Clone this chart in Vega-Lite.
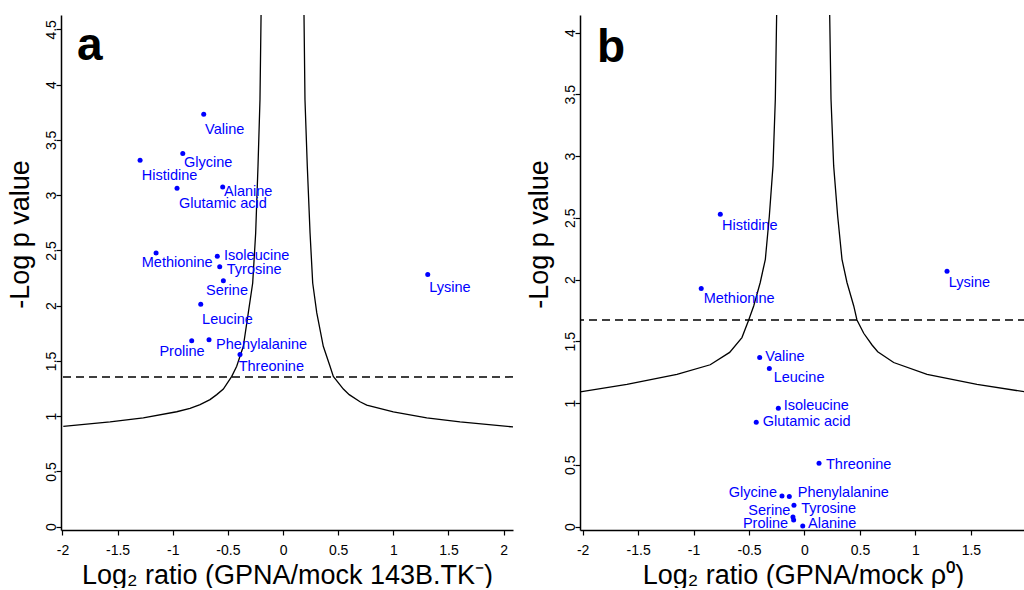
{
  "$schema": "https://vega.github.io/schema/vega-lite/v6.json",
  "padding": {"left": 5, "top": 15, "right": 0, "bottom": 0},
  "spacing": 11,
  "background": "white",
  "datasets": {
    "ptsA": [
      {"name": "Valine", "x": -0.719, "y": 3.731, "lx": -0.707, "ly": 3.593},
      {"name": "Glycine", "x": -0.909, "y": 3.376, "lx": -0.898, "ly": 3.294},
      {"name": "Histidine", "x": -1.296, "y": 3.315, "lx": -1.281, "ly": 3.170},
      {"name": "Glutamic acid", "x": -0.961, "y": 3.062, "lx": -0.943, "ly": 2.923},
      {"name": "Alanine", "x": -0.547, "y": 3.074, "lx": -0.535, "ly": 3.032},
      {"name": "Methionine", "x": -1.151, "y": 2.477, "lx": -1.281, "ly": 2.389},
      {"name": "Isoleucine", "x": -0.596, "y": 2.446, "lx": -0.535, "ly": 2.450},
      {"name": "Tyrosine", "x": -0.574, "y": 2.353, "lx": -0.510, "ly": 2.319},
      {"name": "Serine", "x": -0.541, "y": 2.226, "lx": -0.698, "ly": 2.129},
      {"name": "Lysine", "x": 1.312, "y": 2.281, "lx": 1.326, "ly": 2.163},
      {"name": "Leucine", "x": -0.746, "y": 2.012, "lx": -0.734, "ly": 1.867},
      {"name": "Proline", "x": -0.828, "y": 1.683, "lx": -1.121, "ly": 1.577},
      {"name": "Phenylalanine", "x": -0.671, "y": 1.692, "lx": -0.607, "ly": 1.641},
      {"name": "Threonine", "x": -0.390, "y": 1.557, "lx": -0.402, "ly": 1.445}
    ],
    "ptsB": [
      {"name": "Histidine", "x": -0.759, "y": 2.529, "lx": -0.744, "ly": 2.431},
      {"name": "Lysine", "x": 1.285, "y": 2.067, "lx": 1.300, "ly": 1.968},
      {"name": "Methionine", "x": -0.931, "y": 1.927, "lx": -0.909, "ly": 1.840},
      {"name": "Valine", "x": -0.404, "y": 1.368, "lx": -0.353, "ly": 1.373},
      {"name": "Leucine", "x": -0.317, "y": 1.279, "lx": -0.278, "ly": 1.206},
      {"name": "Isoleucine", "x": -0.236, "y": 0.958, "lx": -0.188, "ly": 0.972},
      {"name": "Glutamic acid", "x": -0.435, "y": 0.845, "lx": -0.377, "ly": 0.847},
      {"name": "Threonine", "x": 0.131, "y": 0.513, "lx": 0.194, "ly": 0.496},
      {"name": "Glycine", "x": -0.203, "y": 0.248, "lx": -0.684, "ly": 0.270},
      {"name": "Phenylalanine", "x": -0.137, "y": 0.243, "lx": -0.061, "ly": 0.270},
      {"name": "Tyrosine", "x": -0.095, "y": 0.172, "lx": -0.029, "ly": 0.146},
      {"name": "Serine", "x": -0.104, "y": 0.078, "lx": -0.506, "ly": 0.126},
      {"name": "Proline", "x": -0.098, "y": 0.053, "lx": -0.555, "ly": 0.019},
      {"name": "Alanine", "x": -0.016, "y": 0.005, "lx": 0.032, "ly": 0.019}
    ],
    "curveA": [
      {"branch": "L", "x": -1.992, "y": 0.908},
      {"branch": "L", "x": -1.568, "y": 0.948},
      {"branch": "L", "x": -1.267, "y": 0.984},
      {"branch": "L", "x": -0.964, "y": 1.040},
      {"branch": "L", "x": -0.843, "y": 1.070},
      {"branch": "L", "x": -0.752, "y": 1.105},
      {"branch": "L", "x": -0.662, "y": 1.150},
      {"branch": "L", "x": -0.601, "y": 1.195},
      {"branch": "L", "x": -0.541, "y": 1.245},
      {"branch": "L", "x": -0.465, "y": 1.360},
      {"branch": "L", "x": -0.420, "y": 1.451},
      {"branch": "L", "x": -0.360, "y": 1.632},
      {"branch": "L", "x": -0.315, "y": 1.934},
      {"branch": "L", "x": -0.275, "y": 2.205},
      {"branch": "L", "x": -0.248, "y": 2.658},
      {"branch": "L", "x": -0.227, "y": 3.261},
      {"branch": "L", "x": -0.209, "y": 3.864},
      {"branch": "L", "x": -0.199, "y": 4.640},
      {"branch": "R", "x": 0.190, "y": 4.640},
      {"branch": "R", "x": 0.199, "y": 3.864},
      {"branch": "R", "x": 0.220, "y": 3.261},
      {"branch": "R", "x": 0.245, "y": 2.658},
      {"branch": "R", "x": 0.269, "y": 2.205},
      {"branch": "R", "x": 0.306, "y": 1.934},
      {"branch": "R", "x": 0.365, "y": 1.632},
      {"branch": "R", "x": 0.426, "y": 1.451},
      {"branch": "R", "x": 0.456, "y": 1.360},
      {"branch": "R", "x": 0.547, "y": 1.245},
      {"branch": "R", "x": 0.600, "y": 1.195},
      {"branch": "R", "x": 0.698, "y": 1.130},
      {"branch": "R", "x": 0.759, "y": 1.100},
      {"branch": "R", "x": 1.000, "y": 1.038},
      {"branch": "R", "x": 1.303, "y": 0.984},
      {"branch": "R", "x": 1.605, "y": 0.948},
      {"branch": "R", "x": 2.088, "y": 0.902}
    ],
    "curveB": [
      {"branch": "L", "x": -2.022, "y": 1.090},
      {"branch": "L", "x": -1.601, "y": 1.152},
      {"branch": "L", "x": -1.150, "y": 1.233},
      {"branch": "L", "x": -0.850, "y": 1.310},
      {"branch": "L", "x": -0.675, "y": 1.410},
      {"branch": "L", "x": -0.564, "y": 1.530},
      {"branch": "L", "x": -0.503, "y": 1.673},
      {"branch": "L", "x": -0.458, "y": 1.786},
      {"branch": "L", "x": -0.399, "y": 1.976},
      {"branch": "L", "x": -0.353, "y": 2.164},
      {"branch": "L", "x": -0.317, "y": 2.515},
      {"branch": "L", "x": -0.284, "y": 2.920},
      {"branch": "L", "x": -0.263, "y": 3.460},
      {"branch": "L", "x": -0.251, "y": 4.150},
      {"branch": "R", "x": 0.227, "y": 4.150},
      {"branch": "R", "x": 0.239, "y": 3.460},
      {"branch": "R", "x": 0.263, "y": 2.920},
      {"branch": "R", "x": 0.299, "y": 2.515},
      {"branch": "R", "x": 0.338, "y": 2.164},
      {"branch": "R", "x": 0.383, "y": 1.976},
      {"branch": "R", "x": 0.444, "y": 1.786},
      {"branch": "R", "x": 0.473, "y": 1.673},
      {"branch": "R", "x": 0.534, "y": 1.565},
      {"branch": "R", "x": 0.609, "y": 1.470},
      {"branch": "R", "x": 0.660, "y": 1.415},
      {"branch": "R", "x": 0.804, "y": 1.328},
      {"branch": "R", "x": 1.105, "y": 1.233},
      {"branch": "R", "x": 1.555, "y": 1.152},
      {"branch": "R", "x": 1.991, "y": 1.090}
    ],
    "threshA": [{"y": 1.355}],
    "threshB": [{"y": 1.673}],
    "letterA": [{"t": "a", "x": -1.868, "y": 4.226}],
    "letterB": [{"t": "b", "x": -1.871, "y": 3.760}]
  },
  "hconcat": [
    {
      "width": 452,
      "height": 515,
      "layer": [
        {
          "data": {"name": "curveA"},
          "mark": {"type": "line", "color": "#000", "strokeWidth": 1.3, "clip": true},
          "encoding": {
            "x": {"field": "x", "type": "quantitative", "scale": {"domain": [-2.013, 2.085], "nice": false, "zero": false}, "axis": {"title": "Log₂ ratio (GPNA/mock 143B.TK⁻)", "values": [-2, -1.5, -1, -0.5, 0, 0.5, 1, 1.5, 2], "labelExpr": "datum.value + ''"}},
            "y": {"field": "y", "type": "quantitative", "scale": {"domain": [-0.03, 4.63], "nice": false, "zero": false}, "axis": {"title": "-Log p value", "titleY": 219, "values": [0, 0.5, 1, 1.5, 2, 2.5, 3, 3.5, 4, 4.5], "labelExpr": "datum.value + ''"}},
            "detail": {"field": "branch", "type": "nominal"}
          }
        },
        {
          "data": {"name": "threshA"},
          "mark": {"type": "rule", "color": "#000", "strokeWidth": 1.5, "strokeDash": [8, 5]},
          "encoding": {
            "y": {"field": "y", "type": "quantitative", "scale": {"domain": [-0.03, 4.63], "nice": false, "zero": false}, "axis": {"title": "-Log p value", "titleY": 219, "values": [0, 0.5, 1, 1.5, 2, 2.5, 3, 3.5, 4, 4.5], "labelExpr": "datum.value + ''"}}
          }
        },
        {
          "data": {"name": "ptsA"},
          "mark": {"type": "circle", "color": "#0000FF", "opacity": 1, "size": 25, "clip": true},
          "encoding": {
            "x": {"field": "x", "type": "quantitative", "scale": {"domain": [-2.013, 2.085], "nice": false, "zero": false}, "axis": {"title": "Log₂ ratio (GPNA/mock 143B.TK⁻)", "values": [-2, -1.5, -1, -0.5, 0, 0.5, 1, 1.5, 2], "labelExpr": "datum.value + ''"}},
            "y": {"field": "y", "type": "quantitative", "scale": {"domain": [-0.03, 4.63], "nice": false, "zero": false}, "axis": {"title": "-Log p value", "titleY": 219, "values": [0, 0.5, 1, 1.5, 2, 2.5, 3, 3.5, 4, 4.5], "labelExpr": "datum.value + ''"}}
          }
        },
        {
          "data": {"name": "ptsA"},
          "mark": {"type": "text", "color": "#0000FF", "align": "left", "baseline": "middle", "fontSize": 14.5, "font": "Liberation Sans", "clip": true},
          "encoding": {
            "x": {"field": "lx", "type": "quantitative", "scale": {"domain": [-2.013, 2.085], "nice": false, "zero": false}, "axis": {"title": "Log₂ ratio (GPNA/mock 143B.TK⁻)", "values": [-2, -1.5, -1, -0.5, 0, 0.5, 1, 1.5, 2], "labelExpr": "datum.value + ''"}},
            "y": {"field": "ly", "type": "quantitative", "scale": {"domain": [-0.03, 4.63], "nice": false, "zero": false}, "axis": {"title": "-Log p value", "titleY": 219, "values": [0, 0.5, 1, 1.5, 2, 2.5, 3, 3.5, 4, 4.5], "labelExpr": "datum.value + ''"}},
            "text": {"field": "name", "type": "nominal"}
          }
        },
        {
          "data": {"name": "letterA"},
          "mark": {"type": "text", "color": "#000", "align": "left", "baseline": "alphabetic", "fontSize": 46, "fontWeight": "bold", "font": "Liberation Sans"},
          "encoding": {
            "x": {"field": "x", "type": "quantitative", "scale": {"domain": [-2.013, 2.085], "nice": false, "zero": false}, "axis": {"title": "Log₂ ratio (GPNA/mock 143B.TK⁻)", "values": [-2, -1.5, -1, -0.5, 0, 0.5, 1, 1.5, 2], "labelExpr": "datum.value + ''"}},
            "y": {"field": "y", "type": "quantitative", "scale": {"domain": [-0.03, 4.63], "nice": false, "zero": false}, "axis": {"title": "-Log p value", "titleY": 219, "values": [0, 0.5, 1, 1.5, 2, 2.5, 3, 3.5, 4, 4.5], "labelExpr": "datum.value + ''"}},
            "text": {"field": "t", "type": "nominal"}
          }
        }
      ]
    },
    {
      "width": 446,
      "height": 515,
      "layer": [
        {
          "data": {"name": "curveB"},
          "mark": {"type": "line", "color": "#000", "strokeWidth": 1.3, "clip": true},
          "encoding": {
            "x": {"field": "x", "type": "quantitative", "scale": {"domain": [-2.024, 1.997], "nice": false, "zero": false}, "axis": {"title": "Log₂ ratio (GPNA/mock ρ⁰)", "values": [-2, -1.5, -1, -0.5, 0, 0.5, 1, 1.5], "labelExpr": "datum.value + ''"}},
            "y": {"field": "y", "type": "quantitative", "scale": {"domain": [-0.028, 4.142], "nice": false, "zero": false}, "axis": {"title": "-Log p value", "titleY": 219, "values": [0, 0.5, 1, 1.5, 2, 2.5, 3, 3.5, 4], "labelExpr": "datum.value + ''"}},
            "detail": {"field": "branch", "type": "nominal"}
          }
        },
        {
          "data": {"name": "threshB"},
          "mark": {"type": "rule", "color": "#000", "strokeWidth": 1.5, "strokeDash": [8, 5]},
          "encoding": {
            "y": {"field": "y", "type": "quantitative", "scale": {"domain": [-0.028, 4.142], "nice": false, "zero": false}, "axis": {"title": "-Log p value", "titleY": 219, "values": [0, 0.5, 1, 1.5, 2, 2.5, 3, 3.5, 4], "labelExpr": "datum.value + ''"}}
          }
        },
        {
          "data": {"name": "ptsB"},
          "mark": {"type": "circle", "color": "#0000FF", "opacity": 1, "size": 25, "clip": true},
          "encoding": {
            "x": {"field": "x", "type": "quantitative", "scale": {"domain": [-2.024, 1.997], "nice": false, "zero": false}, "axis": {"title": "Log₂ ratio (GPNA/mock ρ⁰)", "values": [-2, -1.5, -1, -0.5, 0, 0.5, 1, 1.5], "labelExpr": "datum.value + ''"}},
            "y": {"field": "y", "type": "quantitative", "scale": {"domain": [-0.028, 4.142], "nice": false, "zero": false}, "axis": {"title": "-Log p value", "titleY": 219, "values": [0, 0.5, 1, 1.5, 2, 2.5, 3, 3.5, 4], "labelExpr": "datum.value + ''"}}
          }
        },
        {
          "data": {"name": "ptsB"},
          "mark": {"type": "text", "color": "#0000FF", "align": "left", "baseline": "middle", "fontSize": 14.5, "font": "Liberation Sans", "clip": true},
          "encoding": {
            "x": {"field": "lx", "type": "quantitative", "scale": {"domain": [-2.024, 1.997], "nice": false, "zero": false}, "axis": {"title": "Log₂ ratio (GPNA/mock ρ⁰)", "values": [-2, -1.5, -1, -0.5, 0, 0.5, 1, 1.5], "labelExpr": "datum.value + ''"}},
            "y": {"field": "ly", "type": "quantitative", "scale": {"domain": [-0.028, 4.142], "nice": false, "zero": false}, "axis": {"title": "-Log p value", "titleY": 219, "values": [0, 0.5, 1, 1.5, 2, 2.5, 3, 3.5, 4], "labelExpr": "datum.value + ''"}},
            "text": {"field": "name", "type": "nominal"}
          }
        },
        {
          "data": {"name": "letterB"},
          "mark": {"type": "text", "color": "#000", "align": "left", "baseline": "alphabetic", "fontSize": 46, "fontWeight": "bold", "font": "Liberation Sans"},
          "encoding": {
            "x": {"field": "x", "type": "quantitative", "scale": {"domain": [-2.024, 1.997], "nice": false, "zero": false}, "axis": {"title": "Log₂ ratio (GPNA/mock ρ⁰)", "values": [-2, -1.5, -1, -0.5, 0, 0.5, 1, 1.5], "labelExpr": "datum.value + ''"}},
            "y": {"field": "y", "type": "quantitative", "scale": {"domain": [-0.028, 4.142], "nice": false, "zero": false}, "axis": {"title": "-Log p value", "titleY": 219, "values": [0, 0.5, 1, 1.5, 2, 2.5, 3, 3.5, 4], "labelExpr": "datum.value + ''"}},
            "text": {"field": "t", "type": "nominal"}
          }
        }
      ]
    }
  ],
  "config": {
    "font": "Liberation Sans",
    "view": {"stroke": null},
    "axis": {
      "grid": false,
      "domainColor": "#000",
      "domainWidth": 1.5,
      "tickColor": "#000",
      "tickWidth": 1.2,
      "tickSize": 5,
      "labelColor": "#000",
      "labelFont": "Liberation Sans",
      "labelFontSize": 14,
      "labelOverlap": false,
      "titleFont": "Liberation Sans",
      "titleFontSize": 27,
      "titleFontWeight": "normal",
      "titleColor": "#000"
    },
    "axisY": {"labelAngle": -90, "labelAlign": "center", "labelBaseline": "alphabetic", "labelPadding": 1, "titlePadding": 10},
    "axisX": {"labelPadding": 8, "titlePadding": 5}
  }
}
